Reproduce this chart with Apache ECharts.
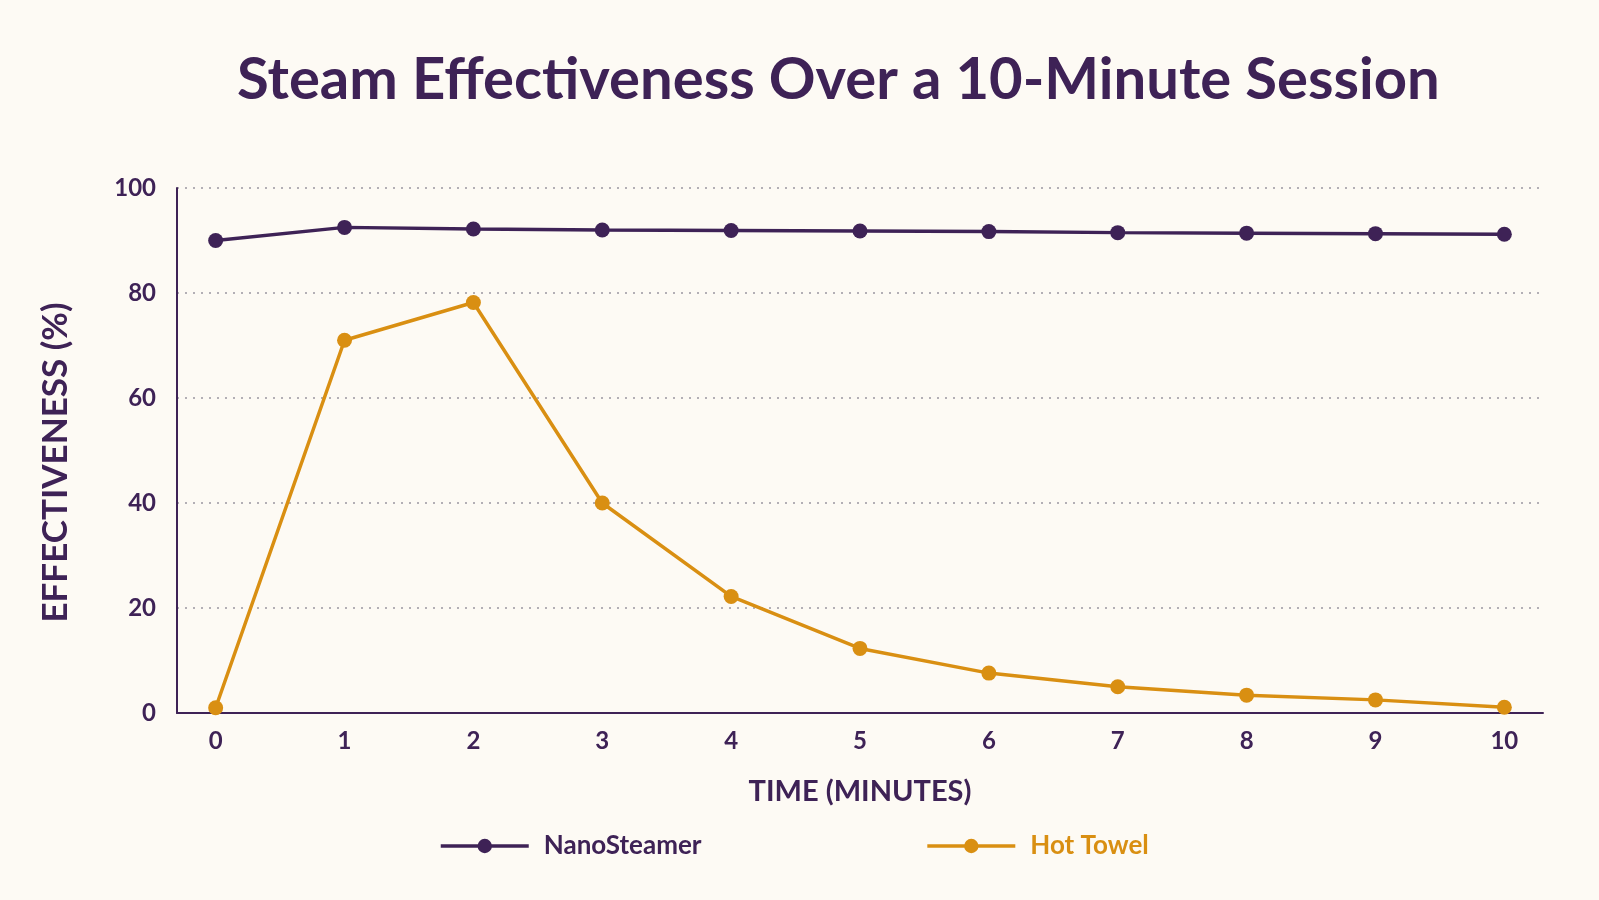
<!DOCTYPE html>
<html>
<head>
    <meta charset="utf-8">
    <title>Steam Effectiveness</title>
    <style>
        html, body { margin: 0; padding: 0; background: #fdfaf4; }
        #container { width: 1599px; height: 900px; }
    </style>
</head>
<body>
    <div id="container"></div>
    <script src="https://cdn.jsdelivr.net/npm/echarts@6/dist/echarts.min.js"></script>
    <script type="text/javascript">

        // data
        var minutes = [0, 1, 2, 3, 4, 5, 6, 7, 8, 9, 10];
        var nanoSteamer = [90, 92.5, 92.2, 92.0, 91.9, 91.8, 91.7, 91.5, 91.4, 91.3, 91.2];
        var hotTowel = [1, 71, 78.2, 40, 22.2, 12.3, 7.6, 5, 3.4, 2.5, 1.1];
        var yTicks = [0, 20, 40, 60, 80, 100];

        var purple = '#3e2256';
        var orange = '#d98f12';

        function pairs(ys) {
            var out = [];
            for (var i = 0; i < minutes.length; i++) {
                out.push([minutes[i], ys[i]]);
            }
            return out;
        }

        var dom = document.getElementById('container');
        var myChart = echarts.init(dom, null, { renderer: 'canvas' });

        var option = {
            backgroundColor: '#fdfaf4',
            animation: false,
            textStyle: { fontFamily: 'Lato' },
            title: {
                text: 'Steam Effectiveness Over a 10-Minute Session',
                left: 232,
                top: 46,
                textStyle: {
                    color: purple,
                    fontSize: 58,
                    fontWeight: 'bold',
                    fontFamily: 'Lato'
                }
            },
            grid: {
                left: 177,
                right: 56,
                top: 188,
                bottom: 187
            },
            legend: {
                bottom: 36,
                left: 434,
                itemWidth: 88,
                itemHeight: 18,
                itemGap: 224,
                lineStyle: { width: 3.5 },
                textStyle: { fontSize: 26, fontWeight: 'bold', fontFamily: 'Lato', padding: [0, 0, 0, 10] },
                data: [
                    { name: 'NanoSteamer', textStyle: { color: purple } },
                    { name: 'Hot Towel', textStyle: { color: orange } }
                ]
            },
            xAxis: {
                type: 'value',
                min: -0.3,
                max: 10.3,
                name: 'TIME (MINUTES)',
                nameLocation: 'middle',
                nameGap: 64,
                nameTextStyle: { color: purple, fontSize: 29, fontWeight: 'bold', fontFamily: 'Lato' },
                axisLine: { show: true, lineStyle: { color: purple, width: 2 } },
                axisTick: { show: false, customValues: minutes },
                splitLine: { show: false },
                axisLabel: {
                    customValues: minutes,
                    color: purple,
                    fontSize: 24,
                    fontWeight: 'bold',
                    margin: 16
                }
            },
            yAxis: {
                type: 'value',
                min: 0,
                max: 100,
                interval: 20,
                name: 'EFFECTIVENESS (%)',
                nameLocation: 'middle',
                nameGap: 104,
                nameTextStyle: {
                    color: purple, fontSize: 35, fontWeight: 'bold', fontFamily: 'Lato',
                    padding: [0, 24, 0, 0]
                },
                axisLine: { show: true, onZero: false, lineStyle: { color: purple, width: 2 } },
                axisTick: { show: false },
                axisLabel: {
                    color: purple,
                    fontSize: 24,
                    fontWeight: 'bold',
                    margin: 21,
                    formatter: function (v) { return yTicks.indexOf(v) >= 0 ? String(v) : ''; }
                },
                splitLine: {
                    show: true,
                    lineStyle: { color: '#9a97a0', type: [2, 6], width: 1.5 }
                }
            },
            series: [
                {
                    name: 'NanoSteamer',
                    type: 'line',
                    data: pairs(nanoSteamer),
                    symbol: 'circle',
                    symbolSize: 15,
                    color: purple,
                    lineStyle: { color: purple, width: 3.5 },
                    itemStyle: { color: purple }
                },
                {
                    name: 'Hot Towel',
                    type: 'line',
                    data: pairs(hotTowel),
                    symbol: 'circle',
                    symbolSize: 15,
                    color: orange,
                    lineStyle: { color: orange, width: 3.5 },
                    itemStyle: { color: orange }
                }
            ]
        };

        myChart.setOption(option);
        window.addEventListener('resize', myChart.resize);
    </script>
</body>
</html>
